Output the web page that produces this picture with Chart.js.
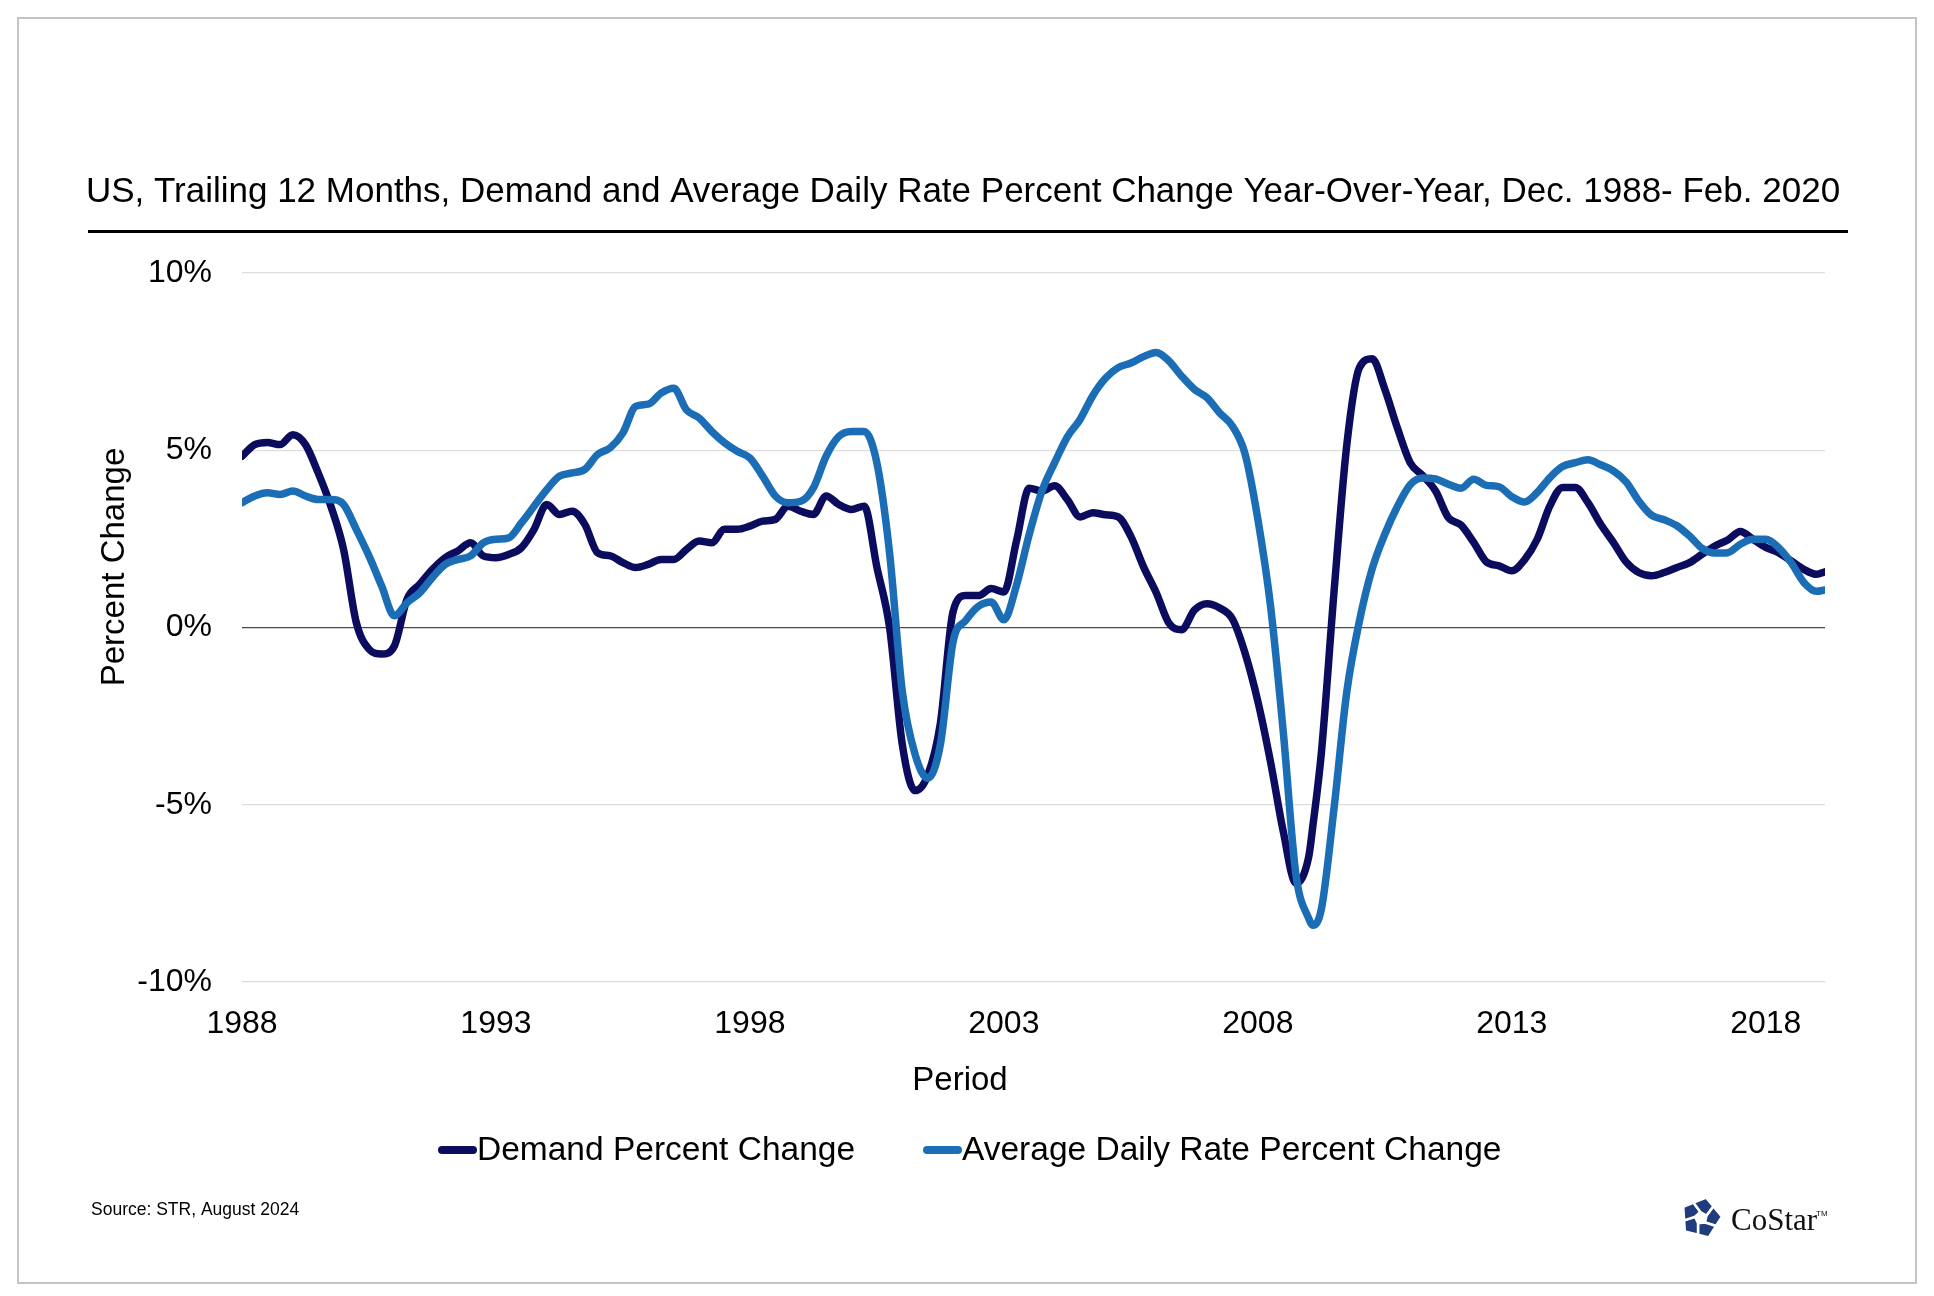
<!DOCTYPE html>
<html>
<head>
<meta charset="utf-8">
<title>US Demand and ADR Percent Change</title>
<script src="https://cdn.jsdelivr.net/npm/chart.js@4.4.1/dist/chart.umd.min.js"></script>
<style>
  html, body { margin: 0; padding: 0; background: #fff; }
  #wrap { position: relative; width: 1934px; height: 1296px; }
</style>
</head>
<body>
<div id="wrap"><canvas id="myChart"></canvas></div>
<script>
// quarterly readings, Dec 1988 .. Feb 2020 (plus one extra at the 2010 trough)
const periods = [
  '1988-12',
  '1989-03', '1989-06', '1989-09', '1989-12',
  '1990-03', '1990-06', '1990-09', '1990-12',
  '1991-03', '1991-06', '1991-09', '1991-12',
  '1992-03', '1992-06', '1992-09', '1992-12',
  '1993-03', '1993-06', '1993-09', '1993-12',
  '1994-03', '1994-06', '1994-09', '1994-12',
  '1995-03', '1995-06', '1995-09', '1995-12',
  '1996-03', '1996-06', '1996-09', '1996-12',
  '1997-03', '1997-06', '1997-09', '1997-12',
  '1998-03', '1998-06', '1998-09', '1998-12',
  '1999-03', '1999-06', '1999-09', '1999-12',
  '2000-03', '2000-06', '2000-09', '2000-12',
  '2001-03', '2001-06', '2001-09', '2001-12',
  '2002-03', '2002-06', '2002-09', '2002-12',
  '2003-03', '2003-06', '2003-09', '2003-12',
  '2004-03', '2004-06', '2004-09', '2004-12',
  '2005-03', '2005-06', '2005-09', '2005-12',
  '2006-03', '2006-06', '2006-09', '2006-12',
  '2007-03', '2007-06', '2007-09', '2007-12',
  '2008-03', '2008-06', '2008-09', '2008-12',
  '2009-03', '2009-06', '2009-09', '2009-12',
  '2010-01', '2010-03', '2010-06', '2010-09', '2010-12',
  '2011-03', '2011-06', '2011-09', '2011-12',
  '2012-03', '2012-06', '2012-09', '2012-12',
  '2013-03', '2013-06', '2013-09', '2013-12',
  '2014-03', '2014-06', '2014-09', '2014-12',
  '2015-03', '2015-06', '2015-09', '2015-12',
  '2016-03', '2016-06', '2016-09', '2016-12',
  '2017-03', '2017-06', '2017-09', '2017-12',
  '2018-03', '2018-06', '2018-09', '2018-12',
  '2019-03', '2019-06', '2019-09', '2019-12',
  '2020-02'
];

const demand = [
  4.83,
  5.16, 5.22, 5.16, 5.44,
  5.16, 4.36, 3.42, 2.20,
  0.14, -0.61, -0.75, -0.52,
  0.80, 1.22, 1.64, 1.97,
  2.16, 2.39, 2.02, 1.97,
  2.06, 2.25, 2.77, 3.47,
  3.19, 3.28, 2.91, 2.11,
  2.02, 1.83, 1.69, 1.78,
  1.92, 1.92, 2.20, 2.44,
  2.39, 2.77, 2.77, 2.86,
  3.00, 3.05, 3.42, 3.28,
  3.19, 3.71, 3.47, 3.33,
  3.42, 1.70, 0.00, -3.30,
  -4.60, -4.17, -2.70, 0.45,
  0.90, 0.90, 1.10, 1.00,
  2.45, 3.93, 3.85, 4.00,
  3.61, 3.12, 3.24, 3.18,
  3.12, 2.57, 1.71, 0.98,
  0.12, -0.06, 0.49, 0.67,
  0.55, 0.24, -0.73, -2.08,
  -3.79, -5.75, -7.21, -6.48,
  -5.60, -3.55, 1.00, 5.13, 7.33,
  7.58, 6.72, 5.62, 4.65,
  4.28, 3.85, 3.10, 2.89,
  2.40, 1.85, 1.74, 1.60,
  1.91, 2.49, 3.43, 3.95,
  3.95, 3.52, 2.91, 2.40,
  1.85, 1.55, 1.46, 1.55,
  1.69, 1.83, 2.07, 2.30,
  2.47, 2.71, 2.49, 2.26,
  2.11, 1.88, 1.64, 1.50,
  1.57
];

const adr = [
  3.52,
  3.71, 3.80, 3.75, 3.85,
  3.71, 3.61, 3.61, 3.47,
  2.77, 2.02, 1.17, 0.33,
  0.70, 0.98, 1.41, 1.78,
  1.92, 2.02, 2.39, 2.49,
  2.53, 2.95, 3.42, 3.89,
  4.27, 4.36, 4.46, 4.88,
  5.07, 5.49, 6.24, 6.30,
  6.61, 6.75, 6.14, 5.91,
  5.53, 5.21, 4.97, 4.78,
  4.27, 3.71, 3.52, 3.56,
  3.94, 4.83, 5.39, 5.53,
  5.53, 4.64, 2.10, -1.80,
  -3.57, -4.25, -3.30, -0.40,
  0.20, 0.60, 0.72, 0.22,
  1.20, 2.63, 3.85, 4.65,
  5.38, 5.87, 6.54, 7.03,
  7.33, 7.46, 7.64, 7.76,
  7.52, 7.09, 6.72, 6.48,
  6.05, 5.68, 4.89, 3.06,
  0.61, -2.93, -6.97, -8.20,
  -8.40, -7.95, -5.10, -1.83, 0.18,
  1.65, 2.63, 3.42, 4.03,
  4.22, 4.19, 4.04, 3.93,
  4.18, 4.01, 3.97, 3.69,
  3.54, 3.81, 4.23, 4.54,
  4.65, 4.73, 4.59, 4.42,
  4.11, 3.57, 3.17, 3.04,
  2.87, 2.58, 2.23, 2.10,
  2.11, 2.35, 2.49, 2.49,
  2.26, 1.83, 1.27, 1.02,
  1.06
];

const yearLabels = ['1988', '1993', '1998', '2003', '2008', '2013', '2018'];
const seriesNames = ['Demand Percent Change', 'Average Daily Rate Percent Change'];
const seriesColors = ['#0c0c5e', '#1b6db5'];

const titleText = 'US, Trailing 12 Months, Demand and Average Daily Rate Percent Change Year-Over-Year, Dec. 1988- Feb. 2020';
const FONT = '"Liberation Sans", Arial, Helvetica, sans-serif';

// months since Dec 1988
const monthIndex = (p) => {
  const [y, m] = p.split('-').map(Number);
  return (y - 1988) * 12 + (m - 12);
};
const toPoints = (values) => values.map((v, i) => ({ x: monthIndex(periods[i]), y: v }));

const decorations = {
  id: 'decorations',
  afterDraw(chart) {
    const { ctx } = chart;
    ctx.save();

    // outer frame
    ctx.strokeStyle = '#c4c4c4';
    ctx.lineWidth = 2;
    ctx.strokeRect(18, 18, 1898, 1265);

    // title + rule
    ctx.fillStyle = '#000';
    ctx.font = '35px ' + FONT;
    ctx.textAlign = 'center';
    ctx.textBaseline = 'alphabetic';
    ctx.fillText(titleText, 963, 202);
    ctx.fillRect(88, 230, 1760, 3);

    // axis titles
    ctx.font = '33px ' + FONT;
    ctx.textBaseline = 'middle';
    ctx.fillText('Period', 960, 1081);
    ctx.save();
    ctx.translate(115, 567);
    ctx.rotate(-Math.PI / 2);
    ctx.fillText('Percent Change', 0, 0);
    ctx.restore();

    // legend
    const legendX = [438, 923];
    ctx.font = '33.5px ' + FONT;
    ctx.textAlign = 'left';
    ctx.lineCap = 'round';
    ctx.lineWidth = 8;
    seriesNames.forEach((name, i) => {
      ctx.strokeStyle = seriesColors[i];
      ctx.beginPath();
      ctx.moveTo(legendX[i] + 4, 1150);
      ctx.lineTo(legendX[i] + 35, 1150);
      ctx.stroke();
      ctx.fillStyle = '#000';
      ctx.fillText(name, legendX[i] + 39, 1151);
    });

    // source note
    ctx.font = '17.5px ' + FONT;
    ctx.fillText('Source: STR, August 2024', 91, 1210);

    // CoStar mark
    const cx = 1701, cy = 1218, R = 21, r = 6;
    const outer = [], inner = [];
    for (let k = 0; k < 5; k++) {
      const a = -Math.PI / 2 + k * 2 * Math.PI / 5 + 0.25;
      outer.push([cx + R * Math.cos(a), cy + R * Math.sin(a)]);
      const b = a + 0.9;
      inner.push([cx + r * Math.cos(b), cy + r * Math.sin(b)]);
    }
    const cut = (k) => {
      const p = outer[k], q = outer[(k + 1) % 5];
      return [p[0] + (q[0] - p[0]) * 0.45, p[1] + (q[1] - p[1]) * 0.45];
    };
    ctx.fillStyle = '#213c7c';
    ctx.strokeStyle = '#fff';
    ctx.lineWidth = 2.5;
    ctx.lineJoin = 'miter';
    for (let k = 0; k < 5; k++) {
      const n = (k + 1) % 5;
      const pts = [inner[k], cut(k), outer[n], cut(n), inner[n]];
      ctx.beginPath();
      pts.forEach((p, j) => (j ? ctx.lineTo(p[0], p[1]) : ctx.moveTo(p[0], p[1])));
      ctx.closePath();
      ctx.fill();
      ctx.stroke();
    }
    ctx.fillStyle = '#111';
    ctx.font = '31px "Liberation Serif", "Times New Roman", serif';
    ctx.textBaseline = 'alphabetic';
    ctx.fillText('CoStar', 1731, 1230);
    ctx.font = '8px ' + FONT;
    ctx.fillText('TM', 1816, 1216);

    ctx.restore();
  }
};

const ctx = document.getElementById('myChart').getContext('2d');

const config = {
  type: 'line',
  data: {
    datasets: [
      {
        label: seriesNames[0],
        data: toPoints(demand),
        borderColor: seriesColors[0],
        backgroundColor: seriesColors[0],
        borderWidth: 7.5,
        pointRadius: 0,
        cubicInterpolationMode: 'monotone',
        borderCapStyle: 'round',
        borderJoinStyle: 'round',
        order: 1
      },
      {
        label: seriesNames[1],
        data: toPoints(adr),
        borderColor: seriesColors[1],
        backgroundColor: seriesColors[1],
        borderWidth: 7.5,
        pointRadius: 0,
        cubicInterpolationMode: 'monotone',
        borderCapStyle: 'round',
        borderJoinStyle: 'round',
        order: 0
      }
    ]
  },
  options: {
    responsive: true,
    maintainAspectRatio: false,
    animation: false,
    devicePixelRatio: 1,
    layout: {
      padding: { top: 273, right: 109, bottom: 0, left: 0 }
    },
    scales: {
      x: {
        type: 'linear',
        min: 0,
        max: 374,
        grid: { display: false },
        border: { display: false },
        ticks: {
          stepSize: 60,
          includeBounds: false,
          autoSkip: false,
          maxRotation: 0,
          padding: 15,
          color: '#000',
          font: { family: FONT, size: 32 },
          callback: (v) => (v % 60 === 0 ? yearLabels[v / 60] : '')
        },
        afterFit(scale) { scale.height = 314; }
      },
      y: {
        min: -10,
        max: 10,
        grid: {
          drawTicks: false,
          color: (c) => (c.tick && c.tick.value === 0 ? '#4a4a4a' : '#dedede'),
          lineWidth: (c) => (c.tick && c.tick.value === 0 ? 1.3 : 1.2)
        },
        border: { display: false },
        ticks: {
          stepSize: 5,
          padding: 30,
          color: '#000',
          font: { family: FONT, size: 32 },
          callback: (v) => v + '%'
        },
        afterFit(scale) { scale.width = 242; }
      }
    },
    plugins: {
      legend: { display: false },
      title: { display: false },
      tooltip: { enabled: false }
    }
  },
  plugins: [decorations]
};

new Chart(ctx, config);
</script>
</body>
</html>
